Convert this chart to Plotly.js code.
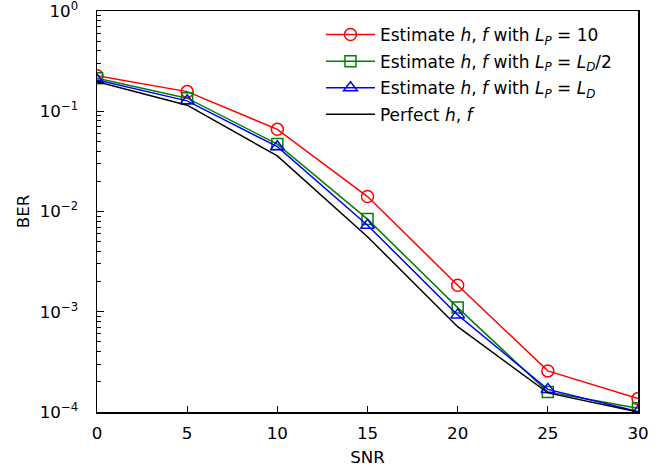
<!DOCTYPE html>
<html>
<head>
<meta charset="utf-8">
<script src="https://cdn.plot.ly/plotly-3.0.1.min.js"></script>
<style>html,body{margin:0;padding:0;background:#fff;}#chart{width:668px;height:470px;}</style>
</head>
<body>
<div id="chart"></div>
<script>
const snr = [0, 5, 10, 15, 20, 25, 30];
const berLp10 = [0.226, 0.157, 0.066, 0.0141, 0.00184, 0.000257, 0.000136];
const berLpHalf = [0.213, 0.135, 0.047, 0.0084, 0.0011, 0.000158, 0.000109];
const berLpFull = [0.205, 0.127, 0.0443, 0.0073, 0.00093, 0.000168, 0.000101];
const berPerfect = [0.197, 0.115, 0.0358, 0.0056, 0.00071, 0.000155, 0.0001];
const names = [
  'Estimate <i>h</i>, <i>f</i> with <i>L</i><sub><i>P</i></sub> = 10',
  'Estimate <i>h</i>, <i>f</i> with <i>L</i><sub><i>P</i></sub> = <i>L</i><sub><i>D</i></sub>/2',
  'Estimate <i>h</i>, <i>f</i> with <i>L</i><sub><i>P</i></sub> = <i>L</i><sub><i>D</i></sub>',
  'Perfect <i>h</i>, <i>f</i>'
];
const yTickVals = [1, 0.1, 0.01, 0.001, 0.0001];
const yTickText = ['10<sup>0</sup>', '10<sup>−1</sup>', '10<sup>−2</sup>', '10<sup>−3</sup>', '10<sup>−4</sup>'];

const font = 'DejaVu Sans, sans-serif';
const fs = 16.7;
const traces = [
  {x: snr, y: berLp10, name: names[0], legendgroup: 'a', mode: 'lines+markers',
   line: {color: '#ff0000', width: 1.5},
   marker: {symbol: 'circle-open', size: 12, color: '#ff0000', line: {width: 1.5, color: '#ff0000'}}},
  {x: snr, y: berLpHalf, name: names[1], legendgroup: 'b', mode: 'lines+markers',
   line: {color: '#008000', width: 1.5},
   marker: {symbol: 'square-open', size: 11, color: '#008000', line: {width: 1.5, color: '#008000'}}},
  {x: snr, y: berLpFull, name: names[2], legendgroup: 'c', mode: 'lines+markers',
   line: {color: '#0000ff', width: 1.5},
   marker: {symbol: 'triangle-up-open', size: 12, color: '#0000ff', line: {width: 1.5, color: '#0000ff'}}},
  {x: snr, y: berPerfect, name: names[3], legendgroup: 'd', mode: 'lines',
   line: {color: '#000000', width: 1.5}}
];

const layout = {
  width: 668, height: 470,
  margin: {l: 97, r: 30, t: 11, b: 58},
  paper_bgcolor: '#fff', plot_bgcolor: '#fff',
  font: {family: font, size: fs, color: '#000'},
  showlegend: true,
  legend: {x: 0.414, y: 0.985, xanchor: 'left', yanchor: 'top',
           bgcolor: 'rgba(255,255,255,0)', borderwidth: 0, itemwidth: 49,
           font: {family: font, size: 17, color: '#000'}, tracegroupgap: 1.5},
  xaxis: {
    range: [0, 30], tickvals: snr, ticks: 'inside', ticklen: 6, tickwidth: 1.2, tickcolor: '#000',
    ticklabelstandoff: 5, ticklabeloverflow: 'allow',
    showline: true, linecolor: '#000', linewidth: 1.5, mirror: true,
    showgrid: false, zeroline: false,
    tickfont: {family: font, size: fs},
    title: {text: 'SNR', font: {family: font, size: fs}, standoff: 10}
  },
  yaxis: {
    type: 'log', range: [-4, 0], tickvals: yTickVals, ticktext: yTickText,
    ticks: 'inside', ticklen: 7, tickwidth: 1.2, tickcolor: '#000',
    ticklabelstandoff: 14, ticklabeloverflow: 'allow',
    minor: {ticks: 'inside', ticklen: 4, tickwidth: 1, tickcolor: '#000', dtick: 'D1', showgrid: false},
    showline: true, linecolor: '#000', linewidth: 1.5, mirror: true,
    showgrid: false, zeroline: false,
    tickfont: {family: font, size: fs},
    title: {text: 'BER', font: {family: font, size: fs}, standoff: 6}
  }
};

Plotly.newPlot('chart', traces, layout, {displayModeBar: false, staticPlot: true});
</script>
</body>
</html>
